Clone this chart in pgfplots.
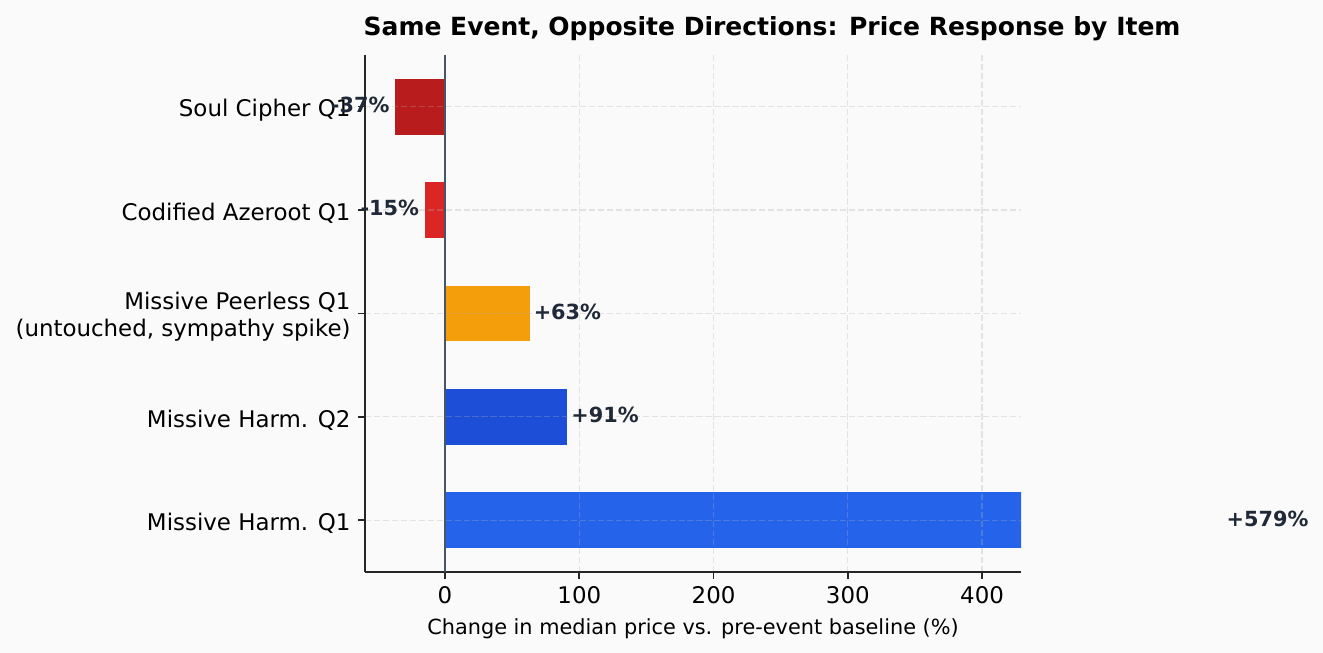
\documentclass[border=0pt]{standalone}
\usepackage{pgfplots}
\pgfplotsset{compat=1.18}
\usepackage{fontspec}
\setmainfont{DejaVu Sans}
\definecolor{bg}{HTML}{FAFAFA}
\definecolor{spine}{HTML}{262626}
\definecolor{zeroline}{HTML}{475569}
\definecolor{gridc}{HTML}{B0B0B0}
\definecolor{lbl}{HTML}{1F2937}
\definecolor{soul}{HTML}{B91C1C}
\definecolor{azer}{HTML}{DC2626}
\definecolor{peer}{HTML}{F59E0B}
\definecolor{harmtwo}{HTML}{1D4ED8}
\definecolor{harmone}{HTML}{2563EB}

\pgfplotsset{
  frame/.style={
    at={(175.2pt,38.88pt)}, anchor=south west,
    width=314.9pt, height=248.2pt, scale only axis,
    xmin=-59.6, xmax=429, ymin=-0.5, ymax=4.5,
  },
}
\tikzset{barlabel/.style={font=\bfseries\fontsize{10}{12}\selectfont, text=lbl, inner sep=0pt, yshift=0.8pt}}

\begin{document}
\begin{tikzpicture}
\fill[bg] (0,0) rectangle (635.04pt,313.44pt);
\begin{axis}[
  frame,
  xbar, bar shift=0pt, bar width=0.54,
  ytick={0,1,2,3,4},
  yticklabels={Missive Harm. Q1, Missive Harm. Q2, {Missive Peerless Q1\\(untouched, sympathy spike)}, Codified Azeroot Q1, Soul Cipher Q1},
  xtick={0,100,200,300,400},
  axis lines*=left,
  axis line style={-, color=spine, line width=0.8pt},
  tick align=outside, major tick length=3.4pt,
  tick style={color=spine, line width=0.8pt},
  ticklabel style={font=\fontsize{11}{13.2}\selectfont, text=black},
  yticklabel style={align=right, yshift=-1.6pt},
  /pgf/number format/assume math mode=true,
  grid=major,
  major grid style={dash pattern=on 3pt off 1.3pt, color=gridc, opacity=0.3, line width=0.6pt},
  extra x ticks={0}, extra x tick labels={},
  extra x tick style={major tick length=0pt, grid=major,
    major grid style={solid, color=zeroline, opacity=1, line width=0.9pt}},
  axis on top,
  xlabel={Change in median price vs. pre-event baseline (\%)},
  xlabel style={font=\fontsize{10}{12}\selectfont, yshift=3pt},
  every node near coord/.append style={barlabel},
]
\addplot[fill=harmone, draw=none] coordinates {(579,0)};
\addplot[fill=harmtwo, draw=none, nodes near coords={+91\%},
  nodes near coords style={anchor=west, xshift=1.8pt}] coordinates {(91,1)};
\addplot[fill=peer, draw=none, nodes near coords={+63\%},
  nodes near coords style={anchor=west, xshift=1.8pt}] coordinates {(63,2)};
\addplot[fill=azer, draw=none, nodes near coords={-15\%},
  nodes near coords style={anchor=east, xshift=-2.6pt}] coordinates {(-15,3)};
\addplot[fill=soul, draw=none, nodes near coords={-37\%},
  nodes near coords style={anchor=east, xshift=-2.6pt}] coordinates {(-37,4)};
\end{axis}
% label of the bar that runs past the axis edge, unclipped
\begin{axis}[frame, hide axis, clip=false,
  every node near coord/.append style={barlabel}]
\addplot[only marks, mark=none, nodes near coords={+579\%},
  nodes near coords style={anchor=west, xshift=1.8pt}] coordinates {(579,0)};
\end{axis}
\node[font=\bfseries\fontsize{12}{14.4}\selectfont, text=black] at (370.6pt,299.5pt)
  {Same Event, Opposite Directions: Price Response by Item};
\pgfresetboundingbox
\path[use as bounding box] (0,0) rectangle (635.04pt,313.44pt);
\end{tikzpicture}
\end{document}
